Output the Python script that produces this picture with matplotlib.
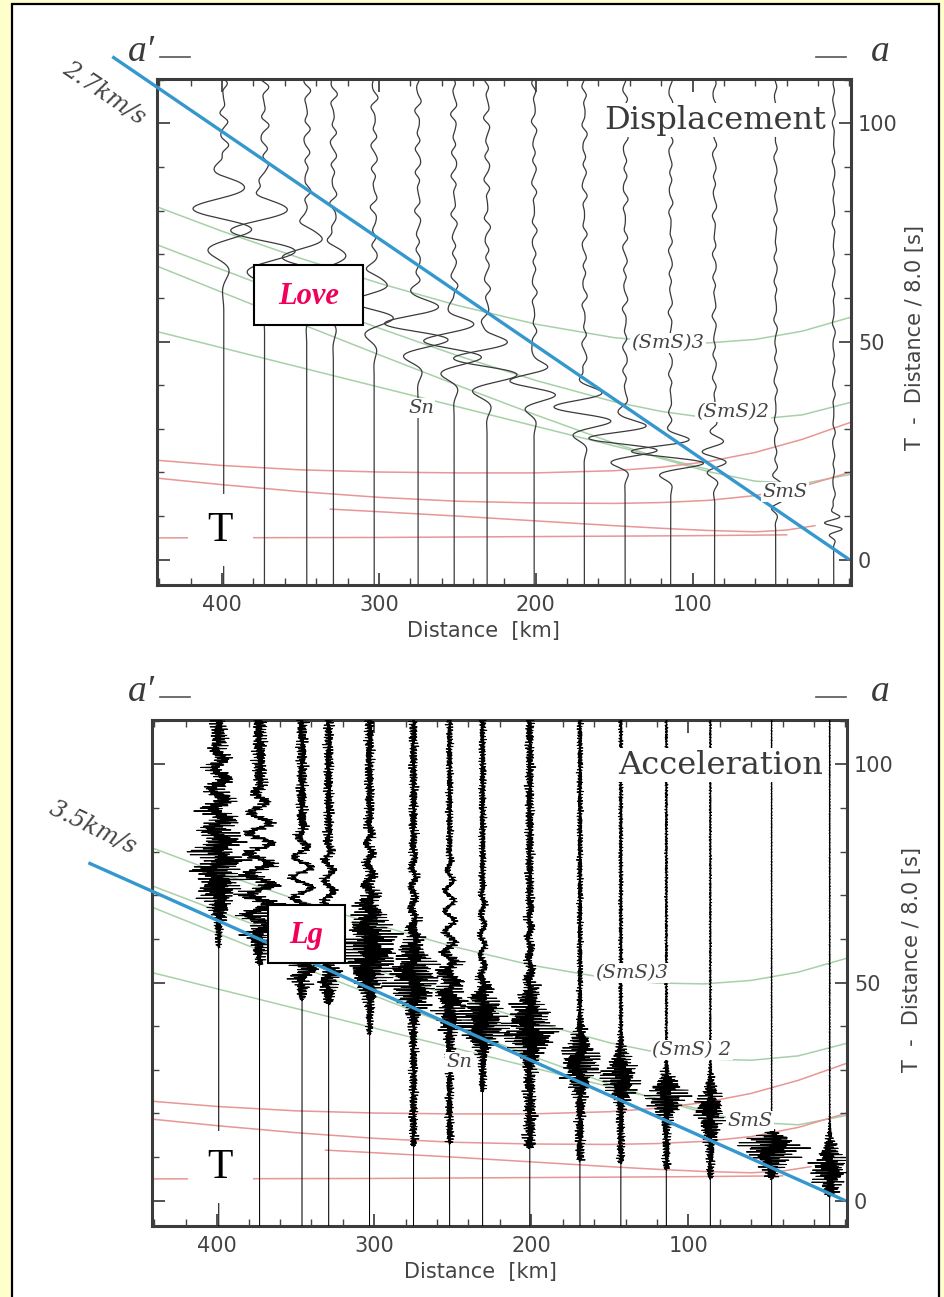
import numpy as np
import matplotlib
matplotlib.use("Agg")
import matplotlib.pyplot as plt
from matplotlib.patches import Rectangle
from matplotlib.lines import Line2D

W, H = 944, 1297

# ---------------- data ----------------
station_km = [399, 373, 346, 329, 303, 275, 252, 231, 201, 169, 143, 114, 86, 47, 10]

# displacement record: Love-wave packet per station
love_center_s = [79, 74, 68, 64, 58, 53, 49, 45, 40, 34, 27, 24, 24, 15, 8]
love_amp_km = [20, 22, 16, 12, 14, 22, 20, 22, 16, 20, 24, 26, 8, 5, 6]
love_period_s = [10, 10, 9, 9, 8, 8, 8, 8, 7, 7, 6, 6, 5, 4, 3]
love_width_s = [7, 7, 6, 6, 5, 5, 5, 5, 4, 4, 3.5, 3, 4, 3, 2]
disp_ripple_km = [2.5, 2.5, 2, 2, 2, 1.8, 1.8, 1.8, 1.5, 1.5, 1.5, 1.2, 1.2, 1.0, 0.8]

# acceleration record: Sn onset and Lg peak per station (peak excursions in km)
acc_sn_onset_s = [58, 54, 46, 45, 38, 12.5, 13, 25, 12, 9, 8.5, 7, 5, 5, 1]
acc_sn_amp_km = [2, 2, 2, 2, 2.5, 3, 3, 3, 4.5, 3.5, 3, 3, 3, 4, 4]
acc_lg_peak_s = [73, 62, 52, 50, 56, 50, 46, 40, 38, 32, 28, 24, 21, 13, 7.5]
acc_lg_amp_km = [13, 7, 6, 5, 19, 16, 9, 19, 16, 13, 13, 14, 10, 22, 11]
acc_lg_below_s = [5, 4, 3, 3, 5, 4, 5, 3, 3, 4, 3, 3, 4, 3, 3]
acc_lg_above_s = [12, 10, 8, 8, 8, 6, 7, 5, 6, 4, 4, 3, 4, 1.5, 4]
acc_coda_km = [6, 5, 4, 3.5, 3.5, 3, 2.5, 2.5, 3, 2, 1.5, 1.0, 0.8, 0.4, 0.4]
acc_lowfreq_km = [4, 7, 6, 3, 2, 1.5, 3, 1.5, 1, 0, 0, 0, 0, 0, 0]

# theoretical travel-time curves (distance km, reduced time s)
curve_km = [441.5, 400, 350, 300, 250, 200, 150, 120, 90, 60, 30, 0]
sms3_s = [80.9, 75.3, 69.1, 63.4, 58.3, 54.0, 50.9, 49.9, 49.7, 50.5, 52.4, 55.5]
sms2_s = [72.2, 66.5, 59.7, 53.1, 46.8, 41.1, 36.2, 34.0, 32.5, 32.2, 33.2, 36.0]
sms1_s = [67.3, 61.3, 54.1, 47.0, 40.0, 33.2, 26.7, 23.2, 20.2, 18.0, 17.4, 19.5]
sn_km = [441.5, 90]
sn_s = [52.3, 20.7]

pmp3_s = [22.8, 21.6, 20.6, 20.1, 19.9, 19.9, 20.4, 21.2, 22.5, 24.6, 27.6, 31.4]
pmp2_s = [18.7, 17.2, 15.6, 14.3, 13.4, 13.0, 12.9, 13.1, 13.6, 14.7, 16.8, 20.0]
pmp1_km = [331, 300, 250, 200, 150, 120, 90, 60, 40, 22]
pmp1_s = [11.6, 11.0, 10.0, 8.9, 7.8, 7.2, 6.7, 6.4, 6.8, 7.8]
pn_km = [441.5, 300, 200, 100, 40]
pn_s = [5.0, 5.1, 5.3, 5.5, 5.7]

reduction_kms = 8.0
love_vel_kms = 2.7
lg_vel_kms = 3.5

x_ticks = [100, 200, 300, 400]
y_ticks = [0, 50, 100]

# ---------------- figure ----------------
fig = plt.figure(figsize=(W / 100, H / 100), dpi=100)
fig.patch.set_facecolor("#FFFFCC")


def fig_xy(x, y):
    return x / W, 1 - y / H


def px_rect(x0, y0, x1, y1, **kw):
    r = Rectangle(fig_xy(x0, y1), (x1 - x0) / W, (y1 - y0) / H,
                  transform=fig.transFigure, **kw)
    fig.add_artist(r)
    return r


def px_text(x, y, s, **kw):
    return fig.text(x / W, 1 - y / H, s, **kw)


def px_line(x0, y0, x1, y1, **kw):
    fig.add_artist(Line2D([x0 / W, x1 / W], [1 - y0 / H, 1 - y1 / H],
                          transform=fig.transFigure, **kw))


# white page inside a black frame
px_rect(12, 4, 939, 1310, facecolor="white", edgecolor="black", lw=1.6, zorder=0)

t = np.arange(-6.0, 111.0, 0.02)
XL = (441.5, -1.0)
YL = (-5.8, 110.2)

sans = ["DejaVu Sans"]
serif = ["Liberation Serif", "DejaVu Serif"]


def setup_axes(box):
    l, tp, r, b = box
    ax = fig.add_axes([l / W, 1 - b / H, (r - l) / W, (b - tp) / H])
    ax.set_xlim(*XL)
    ax.set_ylim(*YL)
    ax.set_xticks(x_ticks)
    ax.set_xticks(np.arange(0, 441, 20), minor=True)
    ax.set_yticks(y_ticks)
    ax.set_yticks(np.arange(0, 111, 10), minor=True)
    ax.yaxis.tick_right()
    ax.tick_params(axis="both", which="both", direction="in", colors="#444444",
                   top=True, bottom=True, left=True, right=True,
                   labelleft=False, labelright=True, labeltop=False)
    ax.tick_params(which="major", length=9, width=1.3, labelsize=15,
                   labelcolor="#444444")
    ax.tick_params(which="minor", length=5, width=1.0)
    ax.tick_params(axis="y", pad=5)
    ax.tick_params(axis="x", pad=7)
    for lab in ax.get_xticklabels() + ax.get_yticklabels():
        lab.set_family(sans)
    for s in ax.spines.values():
        s.set_color("#3c3c3c")
        s.set_linewidth(2.2)
    ax.set_facecolor("white")
    return ax


def draw_curves(ax):
    green = "#a8d0a8"
    red = "#e89696"
    for s in (sms3_s, sms2_s, sms1_s):
        ax.plot(curve_km, s, color=green, lw=1.1, zorder=1)
    ax.plot(sn_km, sn_s, color=green, lw=1.1, zorder=1)
    for s in (pmp3_s, pmp2_s):
        ax.plot(curve_km, s, color=red, lw=1.1, zorder=1)
    ax.plot(pmp1_km, pmp1_s, color=red, lw=1.1, zorder=1)
    ax.plot(pn_km, pn_s, color=red, lw=1.1, zorder=1)


def smooth_step(x, w):
    return 0.5 * (1 + np.tanh(x / w))


def draw_velocity_line(ax, v, d_far):
    d = np.array([d_far, 0.0])
    ax.plot(d, d * (1.0 / v - 1.0 / reduction_kms), color="#3497cd", lw=2.4,
            clip_on=False, zorder=6, solid_capstyle="butt")


# ---------------- top panel: displacement ----------------
top_box = (157, 79, 851, 585)
ax1 = setup_axes(top_box)
draw_curves(ax1)
for i, d in enumerate(station_km):
    tc, A = love_center_s[i], love_amp_km[i]
    P, s = love_period_s[i], love_width_s[i]
    w = A * np.exp(-0.5 * ((t - tc) / s) ** 2) * np.sin(2 * np.pi * (t - tc) / P + 0.6)
    rip = disp_ripple_km[i] * (np.sin(2 * np.pi * t / 4.6 + 1.1 * i)
                               + 0.6 * np.sin(2 * np.pi * t / 7.3 + 0.3 * i)
                               + 0.3 * np.sin(2 * np.pi * t / 2.9 + 2.1 * i)) / 1.5
    rip *= smooth_step(t - (tc + 1.2 * s), 2.0)
    ax1.plot(d + w + rip, t, color="#3a3a3a", lw=0.9, zorder=3)
draw_velocity_line(ax1, love_vel_kms, 470)

# ---------------- bottom panel: acceleration ----------------
bot_box = (152, 720, 847, 1226)
ax2 = setup_axes(bot_box)
draw_curves(ax2)
for i, d in enumerate(station_km):
    k = i + 1
    car = (np.sin(2 * np.pi * 2.9 * t + 1.7 * k) + 0.8 * np.sin(2 * np.pi * 4.3 * t + 0.9 * k)
           + 0.6 * np.sin(2 * np.pi * 6.1 * t + 2.3 * k)
           + 0.5 * np.sin(2 * np.pi * 1.3 * t + 0.4 * k))
    car /= np.percentile(np.abs(car), 97)
    jag = 0.7 + 0.3 * np.abs(np.sin(2 * np.pi * 0.45 * t + k) * np.sin(2 * np.pi * 0.23 * t + 2 * k))
    t_sn, pk = acc_sn_onset_s[i], acc_lg_peak_s[i]
    sig = np.where(t < pk, acc_lg_below_s[i], acc_lg_above_s[i])
    env = acc_lg_amp_km[i] * np.exp(-0.5 * ((t - pk) / sig) ** 2)
    env += acc_sn_amp_km[i] * smooth_step(t - t_sn, 0.3) * (1 - smooth_step(t - pk, 3))
    env += acc_coda_km[i] * smooth_step(t - pk, 3)
    env *= smooth_step(t - t_sn, 0.3)
    lf = acc_lowfreq_km[i] * np.sin(2 * np.pi * t / 4.7 + k) * smooth_step(t - pk, 2) \
        * (1 - smooth_step(t - pk - 30, 4))
    ax2.plot(d + env * jag * car + lf, t, color="black", lw=0.75, zorder=3)
draw_velocity_line(ax2, lg_vel_kms, 482)

# ---------------- annotations ----------------
lbl_kw = dict(fontsize=15, color="#444444", family=sans)
px_text(483, 631, "Distance  [km]", ha="center", va="center", **lbl_kw)
px_text(480, 1272, "Distance  [km]", ha="center", va="center", **lbl_kw)
px_text(915, 338, "T  -  Distance / 8.0 [s]", ha="center", va="center", rotation=90, **lbl_kw)
px_text(912, 960, "T  -  Distance / 8.0 [s]", ha="center", va="center", rotation=90, **lbl_kw)

title_kw = dict(fontsize=23, color="#3a3a3a", family=["DejaVu Serif"], ha="right", va="center",
                bbox=dict(facecolor="white", edgecolor="none", pad=1), zorder=8)
px_text(826, 120, "Displacement", **title_kw)
px_text(823, 765, "Acceleration", **title_kw)

for y in (52, 692):
    px_text(141, y, "a\u2032", fontsize=27, style="italic", family=serif, color="#3a3a3a",
            ha="center", va="center")
    px_line(160, y + 5, 190, y + 5, color="#555555", lw=1.2)
    px_line(816, y + 5, 846, y + 5, color="#555555", lw=1.2)
    px_text(880, y, "a", fontsize=27, style="italic", family=serif, color="#3a3a3a",
            ha="center", va="center")

px_text(104, 93, "2.7km/s", fontsize=17, style="italic", family=["DejaVu Serif"],
        color="#444444", ha="center", va="center", rotation=-34)
px_text(93, 828, "3.5km/s", fontsize=17, style="italic", family=["DejaVu Serif"],
        color="#444444", ha="center", va="center", rotation=-26)

phase_kw = dict(fontsize=14, style="italic", family=["DejaVu Serif"], color="#444444",
                ha="center", va="center", zorder=7,
                bbox=dict(facecolor="white", edgecolor="none", pad=1))
for x, y, s in [(668, 343, "(SmS)3"), (733, 412, "(SmS)2"), (785, 492, "SmS"), (421, 408, "Sn"),
                (632, 973, "(SmS)3"), (692, 1050, "(SmS) 2"), (750, 1121, "SmS"), (459, 1062, "Sn")]:
    px_text(x, y, s, **phase_kw)

# wave-type boxes
for (x0, y0, x1, y1), s in [((254, 265, 363, 325), "Love"), ((268, 905, 345, 963), "Lg")]:
    px_rect(x0, y0, x1, y1, facecolor="white", edgecolor="black", lw=1.5, zorder=9)
    px_text((x0 + x1) / 2, (y0 + y1) / 2 + 1, s, fontsize=22, weight="bold", style="italic",
            family=serif, color="#F0005A", ha="center", va="center", zorder=10)

# time marker "T"
for yc in (531, 1168):
    px_rect(188, yc - 37, 253, yc + 35, facecolor="white", edgecolor="none", zorder=9)
    px_text(220, yc, "T", fontsize=30, family=serif, color="black", ha="center", va="center",
            zorder=10)

fig.savefig("out.png", dpi=100, facecolor=fig.get_facecolor())
